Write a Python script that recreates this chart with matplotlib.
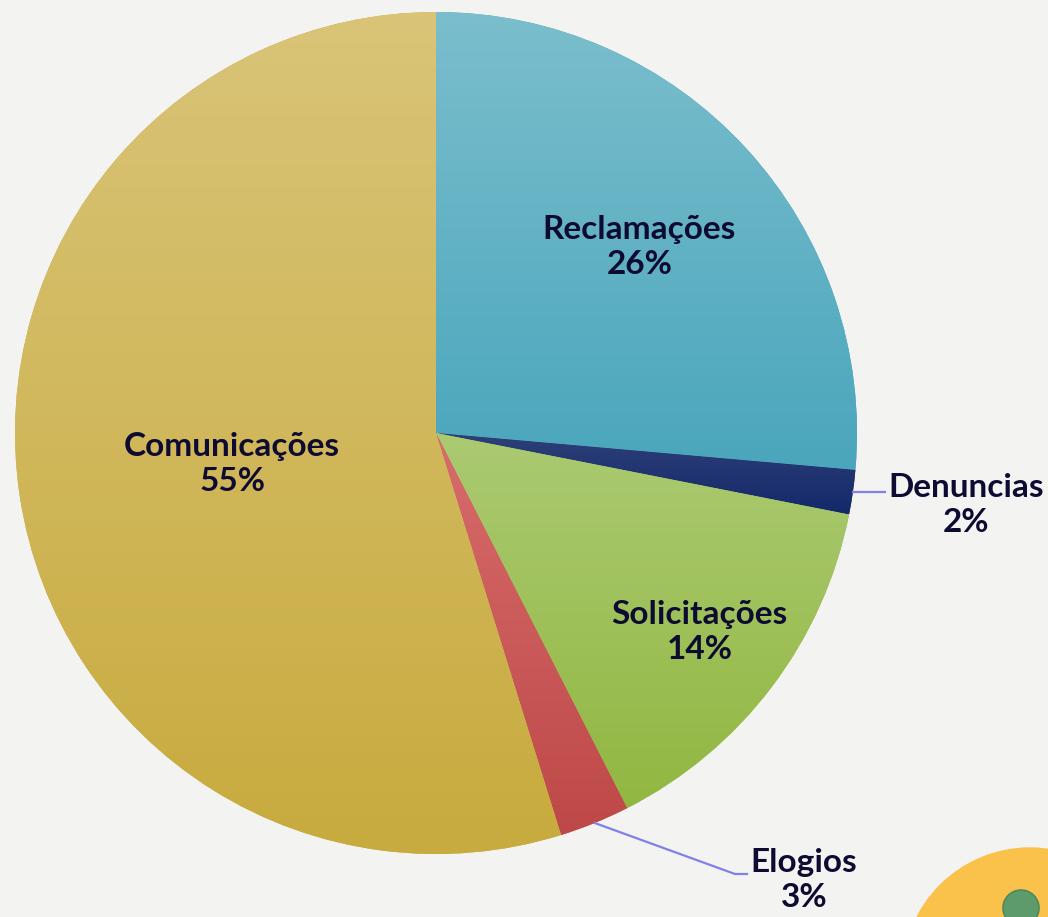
import numpy as np
import matplotlib
matplotlib.use("Agg")
import matplotlib.pyplot as plt
from matplotlib.colors import LinearSegmentedColormap

categories = ["Reclamações", "Denuncias", "Solicitações", "Elogios", "Comunicações"]
values = [26.4, 1.7, 14.4, 2.7, 54.8]
top_colors = ["#7BBECD", "#2E4078", "#ABCA72", "#D86C6C", "#D9C478"]
bot_colors = ["#4AA6BC", "#14296A", "#92B741", "#BE4848", "#C8AB3E"]

BG = "#F3F3F1"
TXT = "#0E0B33"
LEADER = "#8080E8"

W, H = 1048, 917
fig = plt.figure(figsize=(W / 100, H / 100), dpi=100, facecolor=BG)
ax = fig.add_axes([0, 0, 1, 1])
ax.set_facecolor(BG)

cx, cy, R = 436, H - 433, 421
wedges, _ = ax.pie(values, startangle=90, counterclock=False,
                   center=(cx, cy), radius=R, frame=True,
                   wedgeprops=dict(linewidth=0))
ax.set_xlim(0, W)
ax.set_ylim(0, H)
ax.axis("off")

grad = np.linspace(0, 1, 256).reshape(-1, 1)
for w, c1, c2 in zip(wedges, top_colors, bot_colors):
    w.set_facecolor(c2)
    bb = w.get_path().get_extents(w.get_transform() + ax.transData.inverted())
    cmap = LinearSegmentedColormap.from_list("g", [c1, c2])
    im = ax.imshow(grad, cmap=cmap, aspect="auto", origin="upper",
                   extent=(bb.x0, bb.x1, bb.y0, bb.y1), zorder=2,
                   interpolation="bilinear")
    im.set_clip_path(w)

ax.set_xlim(0, W)
ax.set_ylim(0, H)

# angles
total = sum(values)
starts = []
acc = 0
for v in values:
    starts.append(acc)
    acc += v
mids = [90 - (s + v / 2) / total * 360 for s, v in zip(starts, values)]

fs = 24
font = dict(family=["Lato", "DejaVu Sans"], fontweight="bold", fontsize=fs,
            color=TXT, ha="center", va="center", linespacing=1.25, zorder=5)

def lab(i):
    return f"{categories[i]}\n{round(values[i] / total * 100):d}%"

inside = {0: 0.655, 2: 0.785, 4: 0.49}
for i, d in inside.items():
    a = np.deg2rad(mids[i])
    ax.text(cx + d * R * np.cos(a), cy + d * R * np.sin(a), lab(i), **font)

# Denuncias leader
a = np.deg2rad(mids[1])
ex, ey = cx + R * np.cos(a), cy + R * np.sin(a)
ax.plot([ex, 885], [ey, ey], color=LEADER, lw=1.6, zorder=4)
ax.text(966, H - 505, lab(1), **font)

# Elogios leader
a = np.deg2rad(mids[3])
ex, ey = cx + R * np.cos(a), cy + R * np.sin(a)
ax.plot([ex, 735, 747], [ey, H - 874, H - 874], color=LEADER, lw=1.6, zorder=4)
ax.text(804, H - 880, lab(3), **font)

# decorative circle
ax.add_patch(plt.Circle((1030, H - 975), 127, color="#FAC24A", zorder=3, clip_on=False))
ax.add_patch(plt.Circle((1021, H - 908), 18, facecolor="#5E9B6B",
                        edgecolor="#4E8A5C", lw=1.2, zorder=4))

fig.savefig("out.png", dpi=100, facecolor=BG)
